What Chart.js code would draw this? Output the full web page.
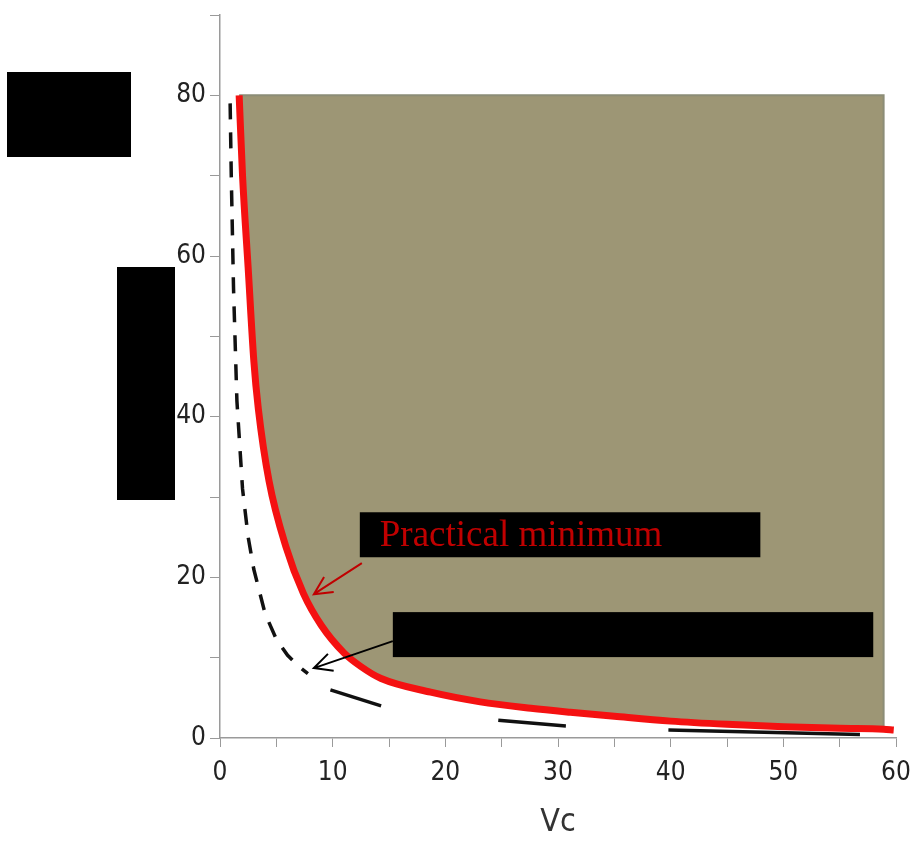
<!DOCTYPE html>
<html>
<head>
<meta charset="utf-8">
<script src="https://cdn.jsdelivr.net/npm/chart.js@4.4.1/dist/chart.umd.min.js"></script>
<style>
  body { margin: 0; background: #fff; }
  #wrap { width: 915px; height: 846px; }
</style>
</head>
<body>
<div id="wrap"><canvas id="myChart" width="915" height="846"></canvas></div>
<script>
// practical minimum curve (red)
const practicalX = [1.7, 2.0, 2.5, 3.0, 3.4, 4.35, 5.85, 7.4, 9.0, 11.0, 12.5, 14.3, 18.7, 23.1, 27.6, 31.1, 35, 40, 45, 50, 55, 58.9, 59.8];
const practicalY = [80, 70, 58.5, 47, 41, 32, 23.8, 18, 14.0, 10.6, 8.9, 7.4, 5.7, 4.5, 3.7, 3.2, 2.7, 2.1, 1.7, 1.4, 1.2, 1.1, 1.0];

// dashed lower curve
const lowerX = [0.9, 1.0, 1.2, 1.5, 2.0, 2.5, 3.0, 4.0, 5.0, 6.0, 7.0, 7.8, 9.8, 14.3, 24.7, 30.7, 39.8, 56.8];
const lowerY = [79, 70, 56, 42, 31, 25, 21, 15.5, 12.3, 10.3, 8.9, 8.0, 6.0, 4.0, 2.2, 1.5, 1.0, 0.45];

// region shaded above the practical curve
const regionTop = 80;
const regionRight = 58.9;

const xTicks = [0, 10, 20, 30, 40, 50, 60];
const yTicks = [0, 20, 40, 60, 80];

const ctx = document.getElementById('myChart').getContext('2d');

const toPoints = (xs, ys) => xs.map((x, i) => ({ x, y: ys[i] }));

const practical = toPoints(practicalX, practicalY);
const lower = toPoints(lowerX, lowerY);
const region = practical.filter((p) => p.x <= regionRight);
const regionEdge = [
	{ x: practicalX[0], y: regionTop },
	{ x: regionRight, y: regionTop },
	region[region.length - 1],
];

const tickFont = { family: "'Liberation Sans Narrow', 'DejaVu Sans Condensed', sans-serif", size: 26 };

// first index of the sparse tail of the dashed curve
const tailStart = lowerX.indexOf(7.8);

const arrow = (c, x1, y1, x2, y2, color) => {
	const a = Math.atan2(y2 - y1, x2 - x1);
	const h = 20;
	c.save();
	c.strokeStyle = color;
	c.lineWidth = 2;
	c.beginPath();
	c.moveTo(x1, y1);
	c.lineTo(x2, y2);
	c.moveTo(x2 - h * Math.cos(a - 0.46), y2 - h * Math.sin(a - 0.46));
	c.lineTo(x2, y2);
	c.lineTo(x2 - h * Math.cos(a + 0.46), y2 - h * Math.sin(a + 0.46));
	c.stroke();
	c.restore();
};

const labels = {
	id: 'labels',
	afterDraw(chart) {
		const c = chart.ctx;
		const sx = chart.scales.x;
		const sy = chart.scales.y;
		const px = (v) => sx.getPixelForValue(v);
		const py = (v) => sy.getPixelForValue(v);
		c.save();
		c.fillStyle = '#000';
		// axis caption blocks
		c.fillRect(7, 72, 124, 85);
		c.fillRect(117, 267, 58, 233);
		// annotation blocks
		c.fillRect(px(12.41), py(28.1), px(47.96) - px(12.41), py(22.5) - py(28.1));
		c.fillRect(px(15.34), py(15.67), px(57.98) - px(15.34), py(10.07) - py(15.67));
		c.fillStyle = '#C00000';
		c.font = "37px 'Liberation Serif', 'DejaVu Serif', serif";
		c.textBaseline = 'alphabetic';
		c.fillText('Practical minimum', px(14.18), py(23.88));
		c.restore();
		arrow(c, px(12.59), py(21.77), px(8.33), py(17.9), '#C00000');
		arrow(c, px(15.34), py(12.06), px(8.33), py(8.7), '#000');
	},
};

const config = {
	type: 'scatter',
	data: {
		datasets: [
			{
				label: 'region',
				data: region,
				showLine: true,
				borderWidth: 0,
				borderColor: 'rgba(0,0,0,0)',
				backgroundColor: '#9D9675',
				pointRadius: 0,
				fill: { value: regionTop },
				cubicInterpolationMode: 'monotone',
				order: 4,
			},
			{
				label: 'edge',
				data: regionEdge,
				showLine: true,
				borderWidth: 2,
				borderColor: '#8C8D77',
				pointRadius: 0,
				fill: false,
				order: 3,
			},
			{
				label: 'lower',
				data: lower,
				showLine: true,
				borderWidth: 3.5,
				borderColor: '#111',
				pointRadius: 0,
				fill: false,
				order: 2,
				segment: {
					borderColor: (s) => {
						if (s.p0DataIndex < tailStart) return '#111';
						return (s.p0DataIndex - tailStart) % 2 === 0 ? 'rgba(0,0,0,0)' : '#111';
					},
					borderDash: (s) => (s.p0DataIndex < tailStart ? [16, 13] : []),
				},
			},
			{
				label: 'practical',
				data: practical,
				showLine: true,
				borderWidth: 7,
				borderColor: '#F41111',
				pointRadius: 0,
				fill: false,
				cubicInterpolationMode: 'monotone',
				order: 1,
			},
		],
	},
	options: {
		responsive: false,
		animation: false,
		layout: { padding: { left: 0, top: 15, right: 19, bottom: 0 } },
		plugins: {
			legend: { display: false },
			tooltip: { enabled: false },
		},
		scales: {
			x: {
				type: 'linear',
				min: 0,
				max: 60,
				afterFit: (scale) => {
					scale.height = 108;
					scale.paddingLeft = 0;
					scale.paddingRight = 0;
				},
				ticks: {
					stepSize: 5,
					padding: 11,
					color: '#222',
					font: tickFont,
					maxRotation: 0,
					autoSkip: false,
					callback: (v) => (xTicks.includes(v) ? v : ''),
				},
				grid: { drawOnChartArea: false, tickLength: 9, color: '#9A9A9A' },
				border: { color: '#9A9A9A', width: 1.5 },
				title: {
					display: true,
					text: 'Vc',
					color: '#333',
					font: { family: tickFont.family, size: 32 },
					padding: { top: 16 },
				},
			},
			y: {
				type: 'linear',
				min: 0,
				max: 90,
				afterFit: (scale) => {
					scale.width = 220;
					scale.paddingTop = 0;
					scale.paddingBottom = 0;
				},
				ticks: {
					stepSize: 10,
					padding: 4,
					color: '#222',
					font: tickFont,
					autoSkip: false,
					callback: (v) => (yTicks.includes(v) ? v : ''),
				},
				grid: { drawOnChartArea: false, tickLength: 10, color: '#9A9A9A' },
				border: { color: '#9A9A9A', width: 1.5 },
			},
		},
	},
	plugins: [labels],
};

const myChart = new Chart(ctx, config);
</script>
</body>
</html>
